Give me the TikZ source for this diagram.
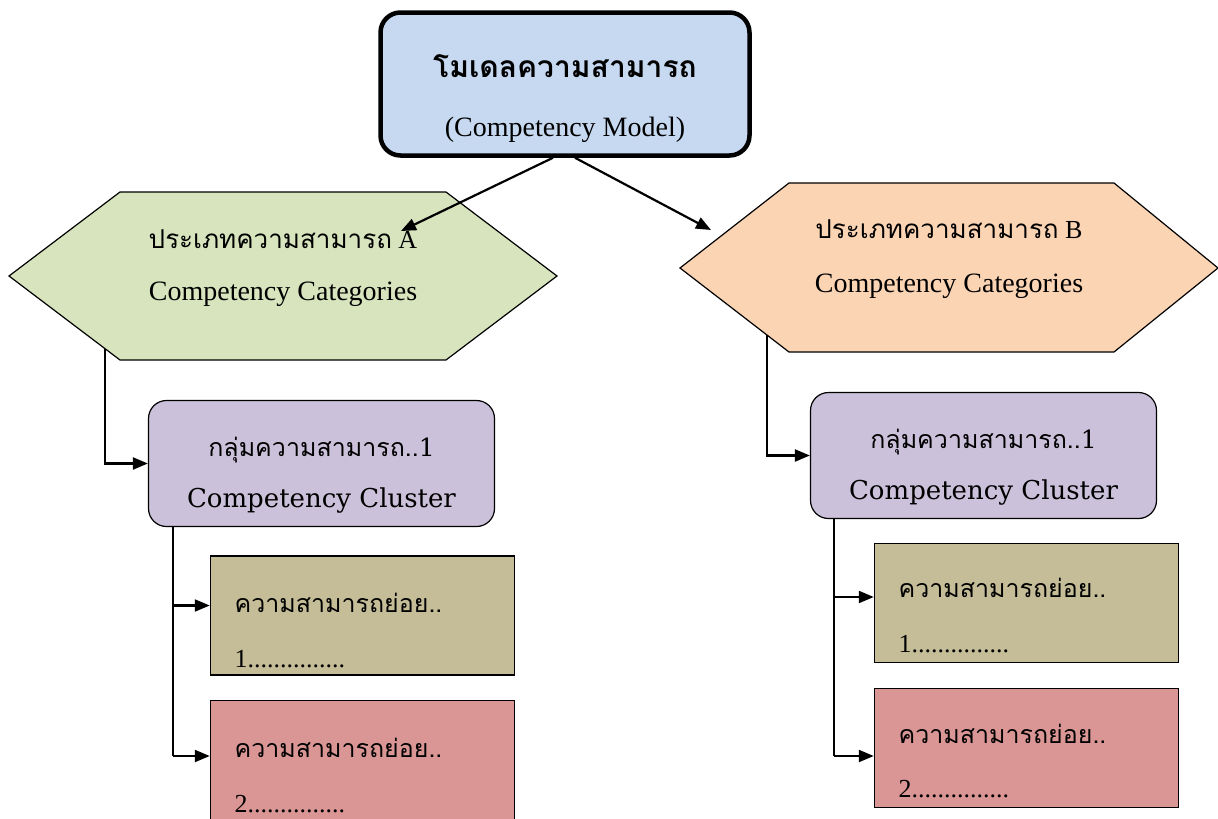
\documentclass[tikz,border=0pt]{standalone}
\usepackage{fontspec}
\setmainfont{Liberation Serif}
\newfontfamily\thaifont[Script=Thai]{Loma}
\newfontfamily\clusterfont{DejaVu Serif}
\usetikzlibrary{positioning,arrows.meta,calc}
\definecolor{modelblue}{HTML}{C6D9F1}
\definecolor{catgreen}{HTML}{D7E4BD}
\definecolor{catpeach}{HTML}{FBD4B4}
\definecolor{clusterlilac}{HTML}{CCC1DA}
\definecolor{subkhaki}{HTML}{C4BD97}
\definecolor{subrose}{HTML}{D99694}

\begin{document}
\begin{tikzpicture}[x=1pt,y=-1pt,
  modelbox/.style={draw,line width=4.5pt,rounded corners=20pt,fill=modelblue,minimum width=369pt,minimum height=143pt},
  hexline/.style={line width=1.2pt},
  clusterbox/.style={draw,line width=1.2pt,rounded corners=18pt,fill=clusterlilac,minimum width=346pt,minimum height=126pt},
  subbox/.style={draw,line width=1.5pt,minimum width=304pt,minimum height=119pt},
  conn/.style={-{Triangle[length=15pt,width=12pt]},line width=2.2pt},
  thtxt/.style={font=\fontsize{26}{30}\selectfont,anchor=base},
  subtxt/.style={font=\thaifont\fontsize{25}{30}\selectfont,anchor=base west},
  entxt/.style={font=\fontsize{28}{32}\selectfont,anchor=base},
  cltxt/.style={font=\clusterfont\fontsize{26}{30}\selectfont,anchor=base},
  numtxt/.style={font=\fontsize{26}{30}\selectfont,anchor=base west}]
\useasboundingbox (0,0) rectangle (1218,819);
% model
\node[modelbox] (model) at (565,84) {};
\node[thtxt,font=\thaifont\bfseries\fontsize{30}{34}\selectfont] (modelTh) at (565,77) {โมเดลความสามารถ};
\node[entxt] (modelEn) at (565,136) {(Competency Model)};
% category A
\filldraw[hexline,fill=catgreen] (9,276) -- (120,192) -- (446,192) -- (557,276) -- (446,360) -- (120,360) -- cycle;
\node[thtxt] (catATh) at (283,248) {{\thaifont ประเภทความสามารถ} A};
\node[entxt] (catAEn) at (283,300) {Competency Categories};
\coordinate (catAin) at (401,231);
\coordinate (tapA) at (105,349);
% category B
\filldraw[hexline,fill=catpeach] (680,268) -- (789,183) -- (1114,183) -- (1218,268) -- (1114,352) -- (789,352) -- cycle;
\node[thtxt] (catBTh) at (949,238) {{\thaifont ประเภทความสามารถ} B};
\node[entxt] (catBEn) at (949,292) {Competency Categories};
\coordinate (catBin) at (711,230);
\coordinate (tapB) at (767,335);
% cluster A
\node[clusterbox] (clusA) at (321.5,463.5) {};
\node[thtxt,font=\fontsize{25}{30}\selectfont] (clusATh) at (321.5,456) {{\thaifont กลุ่มความสามารถ..}{\clusterfont 1}};
\node[cltxt] (clusAEn) at (321.5,507) {Competency Cluster};
\coordinate (spineA) at ([xshift=25pt]clusA.south west);
% cluster B
\node[clusterbox] (clusB) at (983.5,455.5) {};
\node[thtxt,font=\fontsize{25}{30}\selectfont] (clusBTh) at (983.5,448) {{\thaifont กลุ่มความสามารถ..}{\clusterfont 1}};
\node[cltxt] (clusBEn) at (983.5,499) {Competency Cluster};
\coordinate (spineB) at ([xshift=24pt]clusB.south west);
% sub competencies A
\node[subbox,fill=subkhaki] (subA1) at (362.5,615.5) {};
\node[subtxt] (subA1Th) at (231,612) {ความสามารถย่อย..};
\node[numtxt] (subA1No) at (231,667) {1...............};
\node[subbox,fill=subrose] (subA2) at (362.5,760) {};
\node[subtxt] (subA2Th) at (231,757) {ความสามารถย่อย..};
\node[numtxt] (subA2No) at (231,812) {2...............};
\coordinate (inA1) at ([yshift=10pt]subA1.west);
\coordinate (inA2) at ([yshift=4pt]subA2.west);
% sub competencies B
\node[subbox,fill=subkhaki] (subB1) at (1026.5,603) {};
\node[subtxt] (subB1Th) at (895,597) {ความสามารถย่อย..};
\node[numtxt] (subB1No) at (895,652) {1...............};
\node[subbox,fill=subrose] (subB2) at (1026.5,748) {};
\node[subtxt] (subB2Th) at (895,743) {ความสามารถย่อย..};
\node[numtxt] (subB2No) at (895,797) {2...............};
\coordinate (inB1) at ([yshift=6pt]subB1.west);
\coordinate (inB2) at ([yshift=-8pt]subB2.west);
% connectors
\draw[conn] ([xshift=-12pt]model.south) -- (catAin);
\draw[conn] ([xshift=10pt]model.south) -- (catBin);
\draw[conn] (tapA) |- (clusA.west);
\draw[conn] (tapB) |- (clusB.west);
\draw[line width=1.4pt] (spineA) -- (spineA |- inA2);
\draw[conn] (spineA |- inA1) -- (inA1);
\draw[conn] (spineA |- inA2) -- (inA2);
\draw[line width=1.4pt] (spineB) -- (spineB |- inB2);
\draw[conn] (spineB |- inB1) -- (inB1);
\draw[conn] (spineB |- inB2) -- (inB2);
\end{tikzpicture}
\end{document}
